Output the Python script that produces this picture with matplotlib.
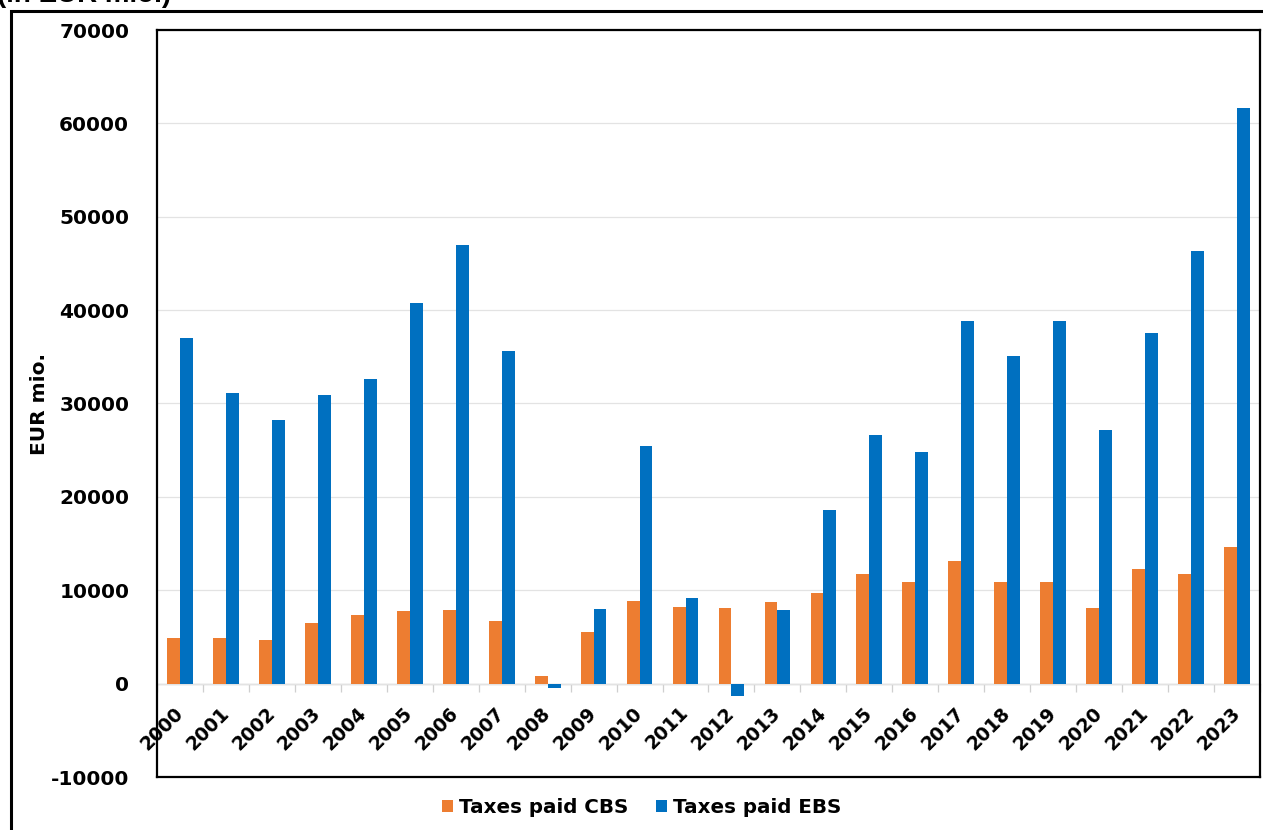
import matplotlib
matplotlib.use("Agg")
import matplotlib.pyplot as plt
import numpy as np
from matplotlib.patches import Rectangle

plt.rcParams["axes.unicode_minus"] = False

# values (EUR mio.)
years = [str(y) for y in range(2000, 2024)]
taxes_cbs = [4900, 4900, 4700, 6500, 7400, 7800, 7900, 6700, 850, 5550,
             8900, 8250, 8100, 8700, 9700, 11700, 10900, 13100, 10850, 10850,
             8100, 12300, 11700, 14600]
taxes_ebs = [37000, 31100, 28200, 30900, 32600, 40800, 47000, 35600, -450, 8000,
             25500, 9150, -1300, 7900, 18600, 26600, 24800, 38800, 35100, 38800,
             27200, 37500, 46300, 61600]

orange = "#ED7D31"
blue = "#0070C0"

fig = plt.figure(figsize=(12.63, 8.30), dpi=100)
ax = fig.add_axes([157 / 1263, 1 - 777 / 830, 1103 / 1263, 747 / 830])

x = np.arange(len(years))
w = 0.28
ax.bar(x - w / 2, taxes_cbs, w, color=orange, label="Taxes paid CBS", zorder=2)
ax.bar(x + w / 2, taxes_ebs, w, color=blue, label="Taxes paid EBS", zorder=2)

ax.set_xlim(-0.5, len(years) - 0.5)
ax.set_ylim(-10000, 70000)
ax.set_yticks(np.arange(-10000, 70001, 10000))
ax.tick_params(axis="y", length=0, pad=20, labelsize=14.5)
for lab in ax.get_yticklabels():
    lab.set_fontweight("bold")
ax.yaxis.grid(True, color="#e3e3e3", lw=0.9)
ax.set_axisbelow(True)
ax.set_xticks([])
for s in ax.spines.values():
    s.set_linewidth(1.6)
    s.set_color("black")

# category axis sits on the zero line
sec = ax.secondary_xaxis(10000 / 80000)
sec.set_xticks(x)
sec.set_xticklabels(years)
sec.set_xticks(np.arange(-0.5, len(years), 1), minor=True)
sec.tick_params(axis="x", which="major", length=0, pad=19, labelsize=13.5)
sec.tick_params(axis="x", which="minor", length=6, color="#cfcfcf", width=0.9)
sec.spines["bottom"].set_color("#cfcfcf")
sec.spines["bottom"].set_linewidth(1.0)
for lab in sec.get_xticklabels():
    lab.set_fontweight("bold")
    lab.set_rotation(45)
    lab.set_rotation_mode("anchor")
    lab.set_ha("right")
    lab.set_va("center")

ax.set_ylabel("EUR mio.", fontsize=14.5, fontweight="bold", labelpad=0)
ax.yaxis.set_label_coords(-0.098, 0.5)

fig.legend(loc="center", bbox_to_anchor=(0.508, 0.027), ncol=2, frameon=False,
           handlelength=0.55, handleheight=0.55, handletextpad=0.3, columnspacing=1.4,
           prop={"weight": "bold", "size": 14.3})

# outer frame and cut-off title
fig.patches.append(Rectangle((11 / 1263, -0.2), 1.2, 1.2 - 11 / 830, transform=fig.transFigure,
                             fill=False, edgecolor="black", lw=2.2))
fig.text(-0.002, 1 - 2 / 830, "(in EUR mio.)", family="Liberation Sans", fontweight="bold",
         fontsize=20, va="baseline", ha="left")

plt.savefig("out.png", dpi=100)
